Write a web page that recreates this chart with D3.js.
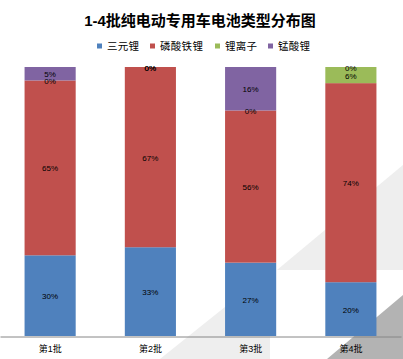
<!DOCTYPE html>
<html>
<head>
<meta charset="utf-8">
<script src="https://cdn.jsdelivr.net/npm/d3@7"></script>
<style>
  body { margin: 0; background: #fff; }
  text { font-family: "Liberation Sans", Arial, "Noto Sans CJK SC", sans-serif; }
</style>
</head>
<body>
<div class="chart"></div>
<script>
const width = 403
const height = 359

// data (percent per batch)
const categories = ['第1批', '第2批', '第3批', '第4批']
const seriesNames = ['三元锂', '磷酸铁锂', '锂离子', '锰酸锂']
const ternary = [30, 33, 27, 20]
const lfp = [65, 67, 56, 74]
const liIon = [0, 0, 0, 6]
const lmo = [5, 0, 16, 0]
const colors = ['#4F81BD', '#C0504D', '#9BBB59', '#8064A2']

const seriesValues = [ternary, lfp, liIon, lmo]
const rows = categories.map((c, i) => {
  const row = { cat: c }
  seriesNames.forEach((s, j) => { row[s] = seriesValues[j][i] })
  return row
})

const svg = d3.select('div.chart')
  .append('svg')
  .attr('width', width)
  .attr('height', height)

// background decoration (the grey slanted shapes)
const deco = svg.append('g')
deco.append('path')
  .attr('d', 'M160 359 L270 271 L270 359 Z')
  .attr('fill', '#eeeeee')
deco.append('path')
  .attr('d', 'M277 270 L403 165 L403 270 Z')
  .attr('fill', '#eeeeee')
deco.append('path')
  .attr('d', 'M327 359 L403 295 L403 359 Z')
  .attr('fill', '#b3b3b3')

// title
svg.append('text')
  .attr('x', 200)
  .attr('y', 26)
  .attr('text-anchor', 'middle')
  .style('font-size', '15px')
  .style('font-weight', 'bold')
  .text('1-4批纯电动专用车电池类型分布图')

// legend
const legendX = [97, 150, 215, 268]
const legend = svg.append('g')
seriesNames.forEach((s, i) => {
  const g = legend.append('g').attr('transform', `translate(${legendX[i]},46)`)
  g.append('rect')
    .attr('x', 0).attr('y', -2.5)
    .attr('width', 5).attr('height', 5)
    .attr('fill', colors[i])
  g.append('text')
    .attr('x', 10)
    .attr('y', 4)
    .style('font-size', '10.5px')
    .style('letter-spacing', '0.3px')
    .text(s)
})

// scales
const x = d3.scaleBand()
  .domain(categories)
  .range([0, 401])
  .paddingInner(0.49)
  .paddingOuter(0.245)

const y = d3.scaleLinear()
  .domain([0, 1])
  .range([336, 67])

const stack = d3.stack()
  .keys(seriesNames)
  .offset(d3.stackOffsetExpand)
const stacked = stack(rows)

const layers = svg.append('g')
  .selectAll('g')
  .data(stacked)
  .join('g')
  .attr('fill', (d, i) => colors[i])

layers.selectAll('rect')
  .data(d => d)
  .join('rect')
  .attr('x', d => x(d.data.cat))
  .attr('y', d => y(d[1]))
  .attr('width', x.bandwidth())
  .attr('height', d => y(d[0]) - y(d[1]))

// x axis
const xAxis = svg.append('g')
  .attr('transform', 'translate(0,336.5)')
  .call(d3.axisBottom(x).tickSize(0).tickSizeOuter(0).tickPadding(9))
xAxis.select('.domain').attr('stroke', '#868686')
xAxis.selectAll('text')
  .style('font-size', '9px')
  .style('font-family', '"Liberation Sans", Arial, "Noto Sans CJK SC", sans-serif')
  .attr('fill', '#000')

// data labels
const labels = svg.append('g')
stacked.forEach(layer => {
  labels.selectAll(null)
    .data(layer)
    .join('text')
    .attr('x', d => x(d.data.cat) + x.bandwidth() / 2)
    .attr('y', d => (y(d[0]) + y(d[1])) / 2)
    .attr('dy', '0.45em')
    .attr('text-anchor', 'middle')
    .style('font-size', '8px')
    .attr('fill', '#000')
    .text(d => d.data[layer.key] + '%')
})
</script>
</body>
</html>
